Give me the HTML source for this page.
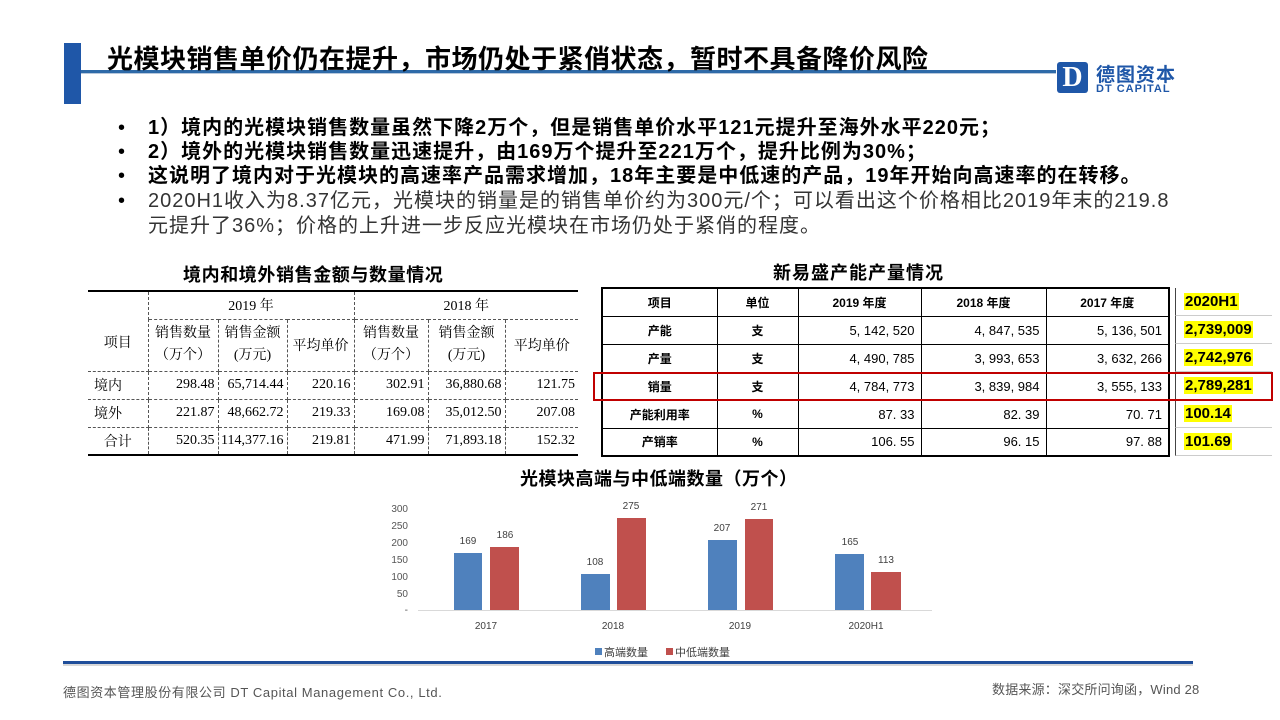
<!DOCTYPE html>
<html><head><meta charset="utf-8"><style>
*{margin:0;padding:0;box-sizing:border-box}
body{width:1280px;height:720px;background:#fff;position:relative;overflow:hidden;font-family:"Liberation Sans","Noto Sans CJK SC",sans-serif;color:#000}
.a{position:absolute;white-space:nowrap}
table{border-collapse:collapse;position:absolute}
.lt{font-family:"Liberation Serif","Noto Serif CJK SC",serif;font-size:14px;left:88px;top:290px;width:490px}
.lt td{border:1px dashed #555;height:28px;text-align:right;padding-right:3px}
.lt tr:first-child td{border-top:2px solid #000}
.lt tr:last-child td{border-bottom:2px solid #000}
.lt td:first-child{border-left:none}
.lt td:last-child{border-right:none}
.lt .c{text-align:center;padding:0}
.rt{font-family:"Liberation Sans","Noto Sans CJK SC",sans-serif;font-size:13px;left:601px;top:287px;width:569px;border:2px solid #000}
.rt td{border:1px solid #000;height:28px;text-align:right;padding-right:6px}
.rt td.c{text-align:center;padding:0;font-weight:bold;font-size:12px}
.y{position:absolute;left:1175px;width:97px;height:28px;border-bottom:1px solid #ccc;border-left:1px solid #444;font-weight:bold;font-size:15px}
.y span{background:#ff0;position:absolute;left:8px;top:5px;padding:0 1px}
</style></head><body>
<div class="a" style="left:64px;top:43px;width:17px;height:61px;background:#1f57a8"></div>
<div class="a" style="left:81px;top:70px;width:975px;height:3px;background:#2e6aa8"></div>
<div class="a" style="left:81px;top:73px;width:975px;height:1px;background:#b8c8dc"></div>
<div class="a" style="left:107px;top:39px;font-size:26px;font-weight:bold;letter-spacing:0.5px">光模块销售单价仍在提升，市场仍处于紧俏状态，暂时不具备降价风险</div>
<div class="a" style="left:1057px;top:62px;width:31px;height:31px;background:#1f57a8;border-radius:3px;color:#fff;font:bold 28px/31px 'Liberation Serif',serif;text-align:center">D</div>
<div class="a" style="left:1096px;top:60px;font-size:19px;color:#1f57a8;font-weight:bold;letter-spacing:1px">德图资本</div>
<div class="a" style="left:1096px;top:83px;font-size:11px;color:#1f57a8;font-weight:bold;letter-spacing:1px">DT CAPITAL</div>

<div style="position:absolute;left:118px;top:116px;font-size:20px;line-height:24.5px;letter-spacing:1px">
<div class="a" style="top:0">•</div><div class="a" style="left:30px;top:0;font-weight:bold">1）境内的光模块销售数量虽然下降2万个，但是销售单价水平121元提升至海外水平220元；</div>
<div class="a" style="top:24px">•</div><div class="a" style="left:30px;top:24px;font-weight:bold">2）境外的光模块销售数量迅速提升，由169万个提升至221万个，提升比例为30%；</div>
<div class="a" style="top:48px">•</div><div class="a" style="left:30px;top:48px;font-weight:bold">这说明了境内对于光模块的高速率产品需求增加，18年主要是中低速的产品，19年开始向高速率的在转移。</div>
<div class="a" style="top:73px">•</div><div class="a" style="left:30px;top:73px;color:#333">2020H1收入为8.37亿元，光模块的销量是的销售单价约为300元/个；可以看出这个价格相比2019年末的219.8</div>
<div class="a" style="left:30px;top:98px;color:#333">元提升了36%；价格的上升进一步反应光模块在市场仍处于紧俏的程度。</div>
</div>

<div class="a" style="left:183px;top:261px;font-size:18px;font-weight:bold;letter-spacing:0.6px">境内和境外销售金额与数量情况</div>
<div class="a" style="left:773px;top:259px;font-size:18px;font-weight:bold;letter-spacing:1px">新易盛产能产量情况</div>

<table class="lt">
<tr><td class="c" rowspan="2" style="width:60px;vertical-align:top;padding-top:40px;height:80px">项目</td><td class="c" colspan="3">2019 年</td><td class="c" colspan="3">2018 年</td></tr>
<tr style="height:52px"><td class="c" style="width:70px;line-height:22px">销售数量<br>（万个）</td><td class="c" style="width:69px;line-height:22px">销售金额<br>(万元)</td><td class="c" style="width:67px">平均单价</td><td class="c" style="width:74px;line-height:22px">销售数量<br>（万个）</td><td class="c" style="width:77px;line-height:22px">销售金额<br>(万元)</td><td class="c">平均单价</td></tr>
<tr><td style="text-align:left;padding-left:6px">境内</td><td>298.48</td><td>65,714.44</td><td>220.16</td><td>302.91</td><td>36,880.68</td><td>121.75</td></tr>
<tr><td style="text-align:left;padding-left:6px">境外</td><td>221.87</td><td>48,662.72</td><td>219.33</td><td>169.08</td><td>35,012.50</td><td>207.08</td></tr>
<tr><td class="c">合计</td><td>520.35</td><td>114,377.16</td><td>219.81</td><td>471.99</td><td>71,893.18</td><td>152.32</td></tr>
</table>

<table class="rt">
<tr><td class="c" style="width:115px">项目</td><td class="c" style="width:81px">单位</td><td class="c" style="width:123px">2019 年度</td><td class="c" style="width:125px">2018 年度</td><td class="c">2017 年度</td></tr>
<tr><td class="c">产能</td><td class="c">支</td><td>5, 142, 520</td><td>4, 847, 535</td><td>5, 136, 501</td></tr>
<tr><td class="c">产量</td><td class="c">支</td><td>4, 490, 785</td><td>3, 993, 653</td><td>3, 632, 266</td></tr>
<tr><td class="c">销量</td><td class="c">支</td><td>4, 784, 773</td><td>3, 839, 984</td><td>3, 555, 133</td></tr>
<tr><td class="c">产能利用率</td><td class="c">%</td><td>87. 33</td><td>82. 39</td><td>70. 71</td></tr>
<tr><td class="c">产销率</td><td class="c">%</td><td>106. 55</td><td>96. 15</td><td>97. 88</td></tr>
</table>
<div class="y" style="top:288px"><span>2020H1</span></div>
<div class="y" style="top:316px"><span>2,739,009</span></div>
<div class="y" style="top:344px"><span>2,742,976</span></div>
<div class="y" style="top:372px"><span>2,789,281</span></div>
<div class="y" style="top:400px"><span>100.14</span></div>
<div class="y" style="top:428px"><span>101.69</span></div>
<div class="a" style="left:593px;top:372px;width:680px;height:29px;border:2px solid #c00000"></div>

<div class="a" style="left:520px;top:465px;font-size:18px;font-weight:bold;letter-spacing:0.5px">光模块高端与中低端数量（万个）</div>
<svg class="a" style="left:0;top:0" width="1280" height="720" font-family="Liberation Sans, Noto Sans CJK SC, sans-serif">
<g font-size="10" fill="#555" text-anchor="end">
<text x="408" y="512">300</text><text x="408" y="529">250</text><text x="408" y="546">200</text><text x="408" y="563">150</text><text x="408" y="580">100</text><text x="408" y="597">50</text><text x="408" y="613">-</text>
</g>
<line x1="418" y1="610.5" x2="932" y2="610.5" stroke="#d9d9d9"/>
<g fill="#4f81bd">
<rect x="454" y="553" width="28" height="57"/><rect x="581" y="574" width="29" height="36"/><rect x="708" y="540" width="29" height="70"/><rect x="835" y="554" width="29" height="56"/>
</g>
<g fill="#c0504d">
<rect x="490" y="547" width="29" height="63"/><rect x="617" y="518" width="29" height="92"/><rect x="745" y="519" width="28" height="91"/><rect x="871" y="572" width="30" height="38"/>
</g>
<g font-size="10" fill="#404040" text-anchor="middle">
<text x="468" y="544">169</text><text x="505" y="538">186</text><text x="595" y="565">108</text><text x="631" y="509">275</text><text x="722" y="531">207</text><text x="759" y="510">271</text><text x="850" y="545">165</text><text x="886" y="563">113</text>
<text x="486" y="629">2017</text><text x="613" y="629">2018</text><text x="740" y="629">2019</text><text x="866" y="629">2020H1</text>
</g>
<rect x="595" y="648" width="7" height="7" fill="#4f81bd"/><text x="604" y="656" font-size="11" fill="#404040">高端数量</text>
<rect x="666" y="648" width="7" height="7" fill="#c0504d"/><text x="675" y="656" font-size="11" fill="#404040">中低端数量</text>
</svg>
<div class="a" style="left:63px;top:661px;width:1130px;height:3px;background:#1f4e9a"></div>
<div class="a" style="left:63px;top:664px;width:1130px;height:2px;background:#d8d8d8"></div>
<div class="a" style="left:63px;top:682px;font-size:13px;color:#555;letter-spacing:0.6px">德图资本管理股份有限公司 DT Capital Management Co., Ltd.</div>
<div class="a" style="left:992px;top:679px;font-size:13px;color:#555;letter-spacing:0.2px">数据来源：深交所问询函，Wind 28</div>
</body></html>
